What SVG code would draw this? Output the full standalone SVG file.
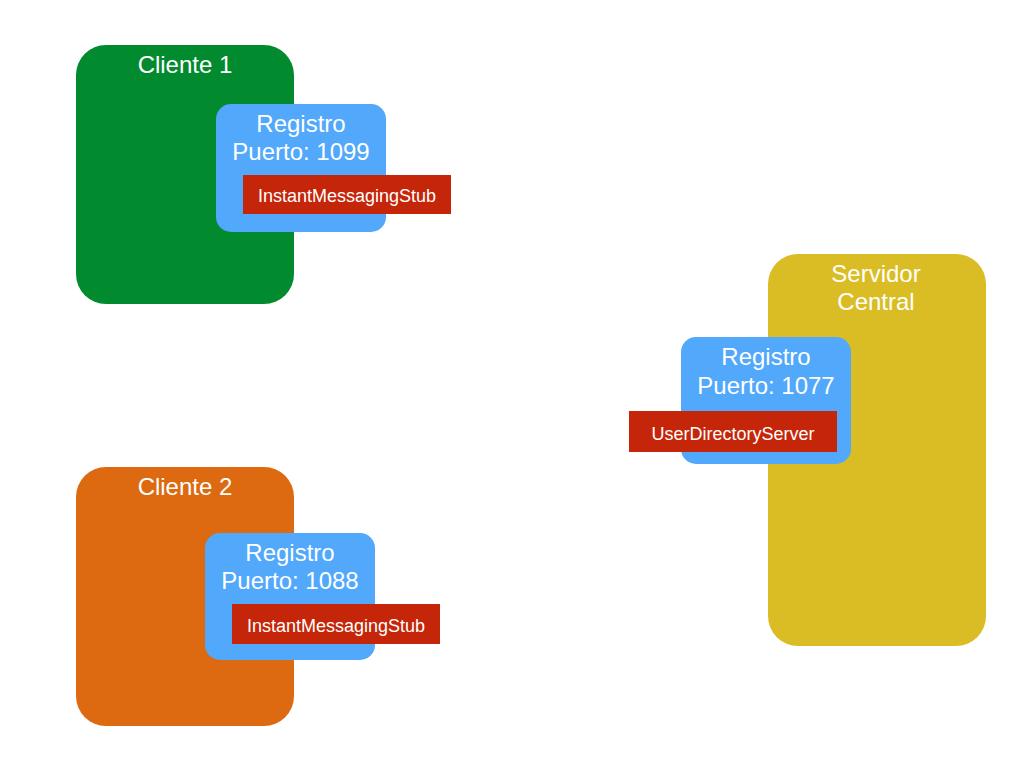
<svg xmlns="http://www.w3.org/2000/svg" width="1024" height="768" viewBox="0 0 1024 768">
  <style>
    .big { font-family: "Liberation Sans", Arial, sans-serif; font-size: 24px; fill: #ffffff; text-anchor: middle; }
    .small { font-family: "Liberation Sans", Arial, sans-serif; font-size: 18px; fill: #ffffff; text-anchor: middle; }
    .reg { fill: #52a8fa; }
    .obj { fill: #c52508; }
  </style>
  <rect width="1024" height="768" fill="#ffffff"/>

  <!-- Cliente 1 -->
  <g id="cliente1">
    <rect x="76" y="45" width="218" height="259" rx="30" fill="#028a2e"/>
    <text class="big" x="185" y="73">Cliente 1</text>
    <g id="registro1099">
      <rect class="reg" x="216" y="104" width="170" height="128" rx="15"/>
      <text class="big" x="301" y="132">Registro</text>
      <text class="big" x="301" y="160">Puerto: 1099</text>
      <rect class="obj" x="243" y="175" width="208" height="39"/>
      <text class="small" x="347" y="202">InstantMessagingStub</text>
    </g>
  </g>

  <!-- Cliente 2 -->
  <g id="cliente2">
    <rect x="76" y="467" width="218" height="259" rx="30" fill="#dd6a11"/>
    <text class="big" x="185" y="495">Cliente 2</text>
    <g id="registro1088">
      <rect class="reg" x="205" y="533" width="170" height="127" rx="15"/>
      <text class="big" x="290" y="561">Registro</text>
      <text class="big" x="290" y="589">Puerto: 1088</text>
      <rect class="obj" x="232" y="604" width="208" height="40"/>
      <text class="small" x="336" y="632">InstantMessagingStub</text>
    </g>
  </g>

  <!-- Servidor Central -->
  <g id="servidor">
    <rect x="768" y="254" width="218" height="392" rx="30" fill="#dabd24"/>
    <text class="big" x="876" y="282">Servidor</text>
    <text class="big" x="876" y="310">Central</text>
    <g id="registro1077">
      <rect class="reg" x="681" y="337" width="170" height="127" rx="15"/>
      <text class="big" x="766" y="365">Registro</text>
      <text class="big" x="766" y="394">Puerto: 1077</text>
      <rect class="obj" x="629" y="411" width="208" height="41"/>
      <text class="small" x="733" y="440">UserDirectoryServer</text>
    </g>
  </g>

  <g id="connectors"></g>
</svg>
